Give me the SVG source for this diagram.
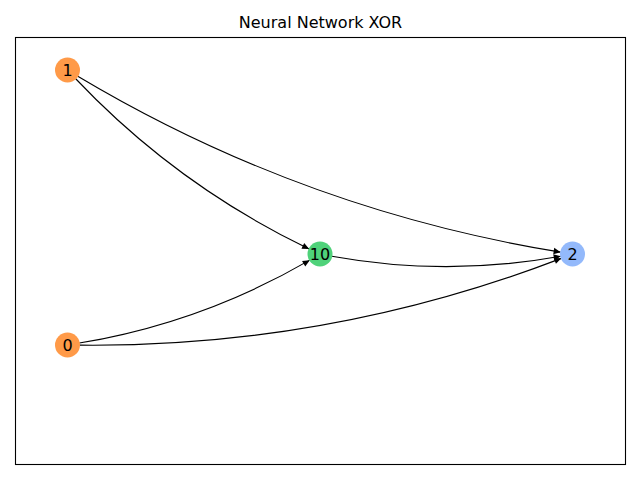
<svg xmlns="http://www.w3.org/2000/svg" width="640" height="480" viewBox="0 0 640 480">
<defs>
<marker id="ah" markerUnits="userSpaceOnUse" markerWidth="10" markerHeight="10" refX="7" refY="3.2" orient="auto" overflow="visible">
<path d="M0,0 L7,3.2 L0,6.4 Z" fill="#000"/>
</marker>
<style>
.edge{fill:none;stroke:#000;stroke-width:1.1;marker-end:url(#ah)}
.lbl{font-family:"DejaVu Sans",sans-serif;font-size:16px;text-anchor:middle;dominant-baseline:central;fill:#000}
.title{font-family:"DejaVu Sans",sans-serif;font-size:16px;text-anchor:middle;fill:#000}
</style>
</defs>
<rect x="0" y="0" width="640" height="480" fill="#fff"/>
<rect x="15.5" y="37.5" width="610" height="427" fill="none" stroke="#000" stroke-width="1.1"/>
<text class="title" x="320.5" y="28">Neural Network XOR</text>
<g id="connectors">
<path class="edge" d="M75.69,78.75 Q176.78,185.37 309.14,248.91"/>
<path class="edge" d="M77.78,76.18 Q302.49,210.23 560.65,252.14"/>
<path class="edge" d="M79.32,343.08 Q202.18,322.59 309.72,260.14"/>
<path class="edge" d="M79.49,345.15 Q328.79,347.64 561.34,258.37"/>
<path class="edge" d="M331.77,256.25 Q446.25,276.95 560.73,256.25"/>
</g>
<g id="node-1"><circle cx="67.5" cy="70" r="12.5" fill="#ff9a48"/><text class="lbl" x="67.5" y="70">1</text></g>
<g id="node-0"><circle cx="67.5" cy="345" r="12.5" fill="#ff9a48"/><text class="lbl" x="67.5" y="345">0</text></g>
<g id="node-10"><circle cx="320" cy="254" r="12.5" fill="#4fd27a"/><text class="lbl" x="320" y="254">10</text></g>
<g id="node-2"><circle cx="572.5" cy="254" r="12.5" fill="#93b9fb"/><text class="lbl" x="572.5" y="254">2</text></g>
</svg>
